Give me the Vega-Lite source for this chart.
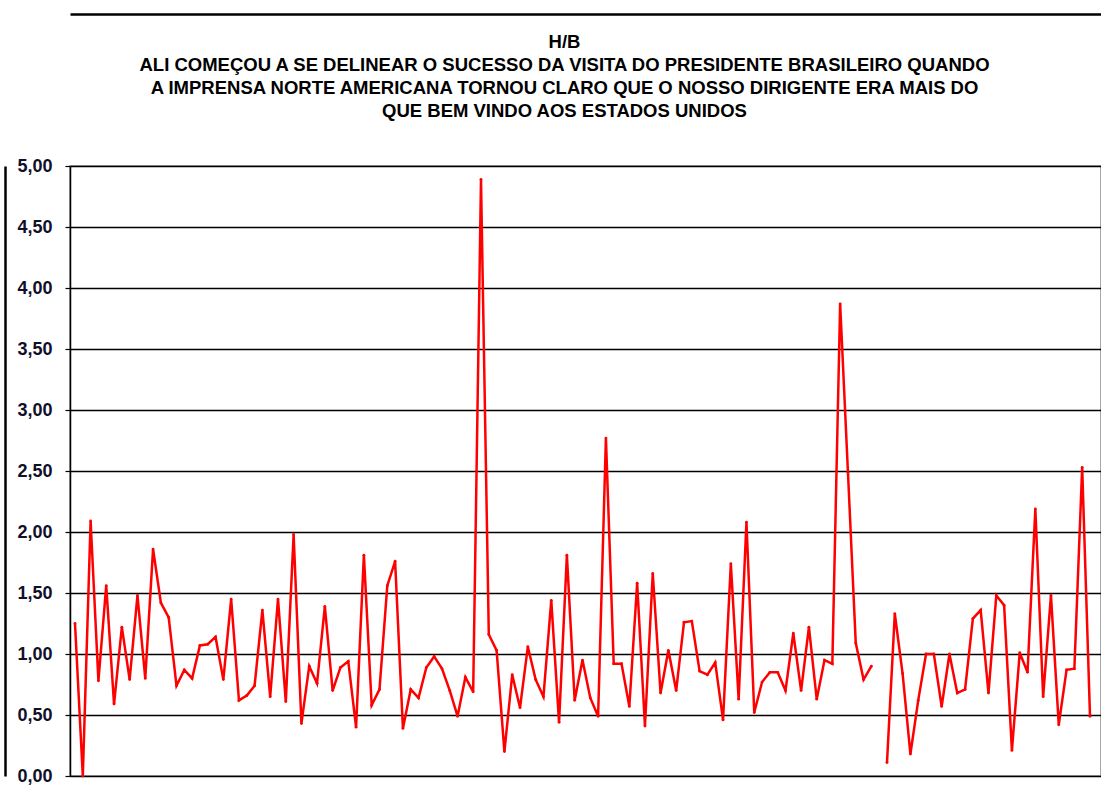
{
  "$schema": "https://vega.github.io/schema/vega-lite/v6.json",
  "autosize": "none",
  "width": 1031,
  "height": 610,
  "padding": {"left": 70, "top": 166, "right": 0, "bottom": 16},
  "background": "white",
  "title": {
    "text": ["H/B", "ALI COMEÇOU A SE DELINEAR O SUCESSO DA VISITA  DO PRESIDENTE BRASILEIRO  QUANDO", "A IMPRENSA NORTE AMERICANA TORNOU CLARO QUE O NOSSO DIRIGENTE ERA MAIS DO", "QUE BEM VINDO AOS ESTADOS UNIDOS"],
    "anchor": "middle",
    "frame": "group",
    "font": "Liberation Sans",
    "fontSize": 18.5,
    "fontWeight": "bold",
    "color": "#000000",
    "lineHeight": 23,
    "baseline": "alphabetic",
    "offset": 0,
    "dx": -21,
    "dy": 121
  },
  "config": {
    "view": {"stroke": "#8c8c8c", "strokeWidth": 1.5},
    "axis": {"labelFont": "Liberation Sans", "titleFont": "Liberation Sans"}
  },
  "data": {
    "values": [
      {"i": 1, "v": 1.25}, {"i": 2, "v": 0.00}, {"i": 3, "v": 2.09}, {"i": 4, "v": 0.78}, {"i": 5, "v": 1.56},
      {"i": 6, "v": 0.59}, {"i": 7, "v": 1.22}, {"i": 8, "v": 0.79}, {"i": 9, "v": 1.48}, {"i": 10, "v": 0.80},
      {"i": 11, "v": 1.86}, {"i": 12, "v": 1.42}, {"i": 13, "v": 1.30}, {"i": 14, "v": 0.74}, {"i": 15, "v": 0.87},
      {"i": 16, "v": 0.80}, {"i": 17, "v": 1.07}, {"i": 18, "v": 1.08}, {"i": 19, "v": 1.14}, {"i": 20, "v": 0.79},
      {"i": 21, "v": 1.45}, {"i": 22, "v": 0.62}, {"i": 23, "v": 0.66}, {"i": 24, "v": 0.74}, {"i": 25, "v": 1.36},
      {"i": 26, "v": 0.65}, {"i": 27, "v": 1.45}, {"i": 28, "v": 0.61}, {"i": 29, "v": 1.98}, {"i": 30, "v": 0.43},
      {"i": 31, "v": 0.90}, {"i": 32, "v": 0.76}, {"i": 33, "v": 1.39}, {"i": 34, "v": 0.70}, {"i": 35, "v": 0.89},
      {"i": 36, "v": 0.94}, {"i": 37, "v": 0.40}, {"i": 38, "v": 1.81}, {"i": 39, "v": 0.58}, {"i": 40, "v": 0.71},
      {"i": 41, "v": 1.56}, {"i": 42, "v": 1.76}, {"i": 43, "v": 0.39}, {"i": 44, "v": 0.71}, {"i": 45, "v": 0.64},
      {"i": 46, "v": 0.89}, {"i": 47, "v": 0.98}, {"i": 48, "v": 0.88}, {"i": 49, "v": 0.70}, {"i": 50, "v": 0.49},
      {"i": 51, "v": 0.81}, {"i": 52, "v": 0.69}, {"i": 53, "v": 4.89}, {"i": 54, "v": 1.16}, {"i": 55, "v": 1.03},
      {"i": 56, "v": 0.20}, {"i": 57, "v": 0.83}, {"i": 58, "v": 0.56}, {"i": 59, "v": 1.06}, {"i": 60, "v": 0.79},
      {"i": 61, "v": 0.65}, {"i": 62, "v": 1.44}, {"i": 63, "v": 0.44}, {"i": 64, "v": 1.81}, {"i": 65, "v": 0.62},
      {"i": 66, "v": 0.95}, {"i": 67, "v": 0.64}, {"i": 68, "v": 0.49}, {"i": 69, "v": 2.77}, {"i": 70, "v": 0.92},
      {"i": 71, "v": 0.92}, {"i": 72, "v": 0.57}, {"i": 73, "v": 1.58}, {"i": 74, "v": 0.41}, {"i": 75, "v": 1.66},
      {"i": 76, "v": 0.68}, {"i": 77, "v": 1.03}, {"i": 78, "v": 0.70}, {"i": 79, "v": 1.26}, {"i": 80, "v": 1.27},
      {"i": 81, "v": 0.86}, {"i": 82, "v": 0.83}, {"i": 83, "v": 0.93}, {"i": 84, "v": 0.46}, {"i": 85, "v": 1.74},
      {"i": 86, "v": 0.63}, {"i": 87, "v": 2.08}, {"i": 88, "v": 0.52}, {"i": 89, "v": 0.77}, {"i": 90, "v": 0.85},
      {"i": 91, "v": 0.85}, {"i": 92, "v": 0.70}, {"i": 93, "v": 1.17}, {"i": 94, "v": 0.70}, {"i": 95, "v": 1.22},
      {"i": 96, "v": 0.63}, {"i": 97, "v": 0.95}, {"i": 98, "v": 0.92}, {"i": 99, "v": 3.87}, {"i": 100, "v": 2.49},
      {"i": 101, "v": 1.09}, {"i": 102, "v": 0.79}, {"i": 103, "v": 0.90}, {"i": 104, "v": null}, {"i": 105, "v": 0.11},
      {"i": 106, "v": 1.33}, {"i": 107, "v": 0.84}, {"i": 108, "v": 0.18}, {"i": 109, "v": 0.62}, {"i": 110, "v": 1.00},
      {"i": 111, "v": 1.00}, {"i": 112, "v": 0.57}, {"i": 113, "v": 1.00}, {"i": 114, "v": 0.68}, {"i": 115, "v": 0.71},
      {"i": 116, "v": 1.29}, {"i": 117, "v": 1.36}, {"i": 118, "v": 0.68}, {"i": 119, "v": 1.48}, {"i": 120, "v": 1.40},
      {"i": 121, "v": 0.21}, {"i": 122, "v": 1.01}, {"i": 123, "v": 0.85}, {"i": 124, "v": 2.19}, {"i": 125, "v": 0.65},
      {"i": 126, "v": 1.48}, {"i": 127, "v": 0.42}, {"i": 128, "v": 0.87}, {"i": 129, "v": 0.88}, {"i": 130, "v": 2.53},
      {"i": 131, "v": 0.49}
    ]
  },
  "layer": [
    {
      "mark": {"type": "line", "color": "#ff0000", "strokeWidth": 2.5, "invalid": "break-paths-show-domains", "clip": false},
      "encoding": {
        "x": {"field": "i", "type": "quantitative", "scale": {"domain": [0.36, 132.41], "nice": false, "zero": false},
          "axis": {"orient": "top", "offset": 152, "domainColor": "#000000", "domainWidth": 2.5, "ticks": false, "labels": false, "grid": false, "title": null}},
        "y": {"field": "v", "type": "quantitative", "scale": {"domain": [0, 5], "nice": false},
          "axis": {"orient": "left", "values": [0, 0.5, 1, 1.5, 2, 2.5, 3, 3.5, 4, 4.5, 5],
            "labelExpr": "replace(format(datum.value, '.2f'), '.', ',')",
            "labelFontSize": 18, "labelFontWeight": "bold", "labelColor": "#10102a", "labelPadding": 13,
            "tickColor": "#000000", "tickSize": 5, "tickWidth": 1.2,
            "domainColor": "#000000", "domainWidth": 1.5,
            "grid": true, "gridColor": "#000000", "gridWidth": 1.3, "gridOpacity": 1,
            "title": null}}
      }
    },
    {
      "mark": {"type": "point", "filled": true, "color": "#ff0000", "size": 8, "opacity": 1},
      "encoding": {
        "x": {"field": "i", "type": "quantitative", "scale": {"domain": [0.36, 132.41], "nice": false, "zero": false},
          "axis": {"orient": "top", "offset": 152, "domainColor": "#000000", "domainWidth": 2.5, "ticks": false, "labels": false, "grid": false, "title": null}},
        "y": {"field": "v", "type": "quantitative", "scale": {"domain": [0, 5], "nice": false},
          "axis": {"orient": "left", "offset": 65, "domainColor": "#000000", "domainWidth": 2.5, "ticks": false, "labels": false, "grid": false, "title": null}}
      }
    }
  ],
  "resolve": {"axis": {"y": "independent"}}
}
